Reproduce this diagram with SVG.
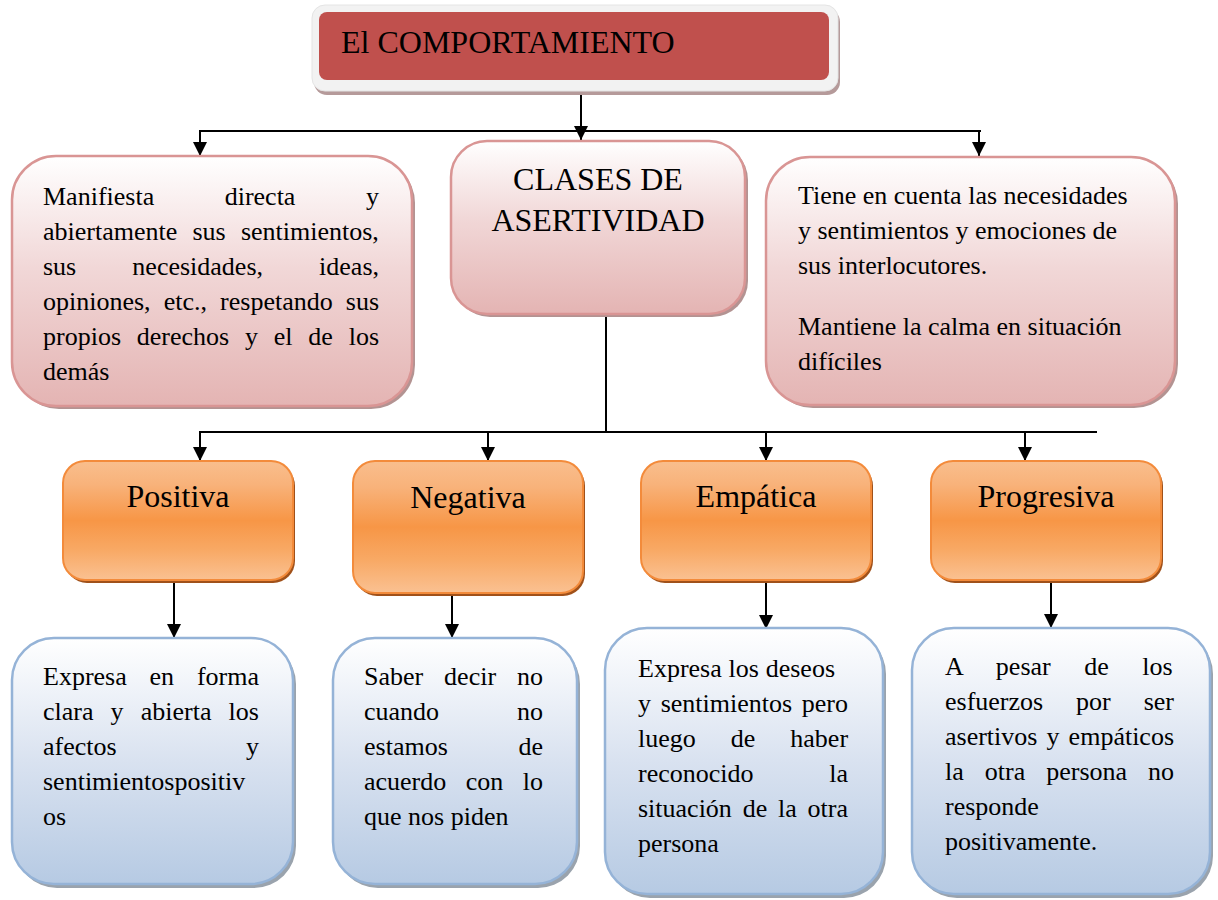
<svg xmlns="http://www.w3.org/2000/svg" width="1218" height="900" viewBox="0 0 1218 900">
<defs>
<linearGradient id="gPink" x1="0" y1="0" x2="0" y2="1">
<stop offset="0" stop-color="#ffffff"/><stop offset="0.45" stop-color="#f1d7d7"/><stop offset="1" stop-color="#e4b4b3"/>
</linearGradient>
<linearGradient id="gOrange" x1="0" y1="0" x2="0" y2="1">
<stop offset="0" stop-color="#f9be8d"/><stop offset="0.2" stop-color="#f8b27a"/><stop offset="0.5" stop-color="#f79646"/><stop offset="0.75" stop-color="#f8a965"/><stop offset="1" stop-color="#fac192"/>
</linearGradient>
<linearGradient id="gBlue" x1="0" y1="0" x2="0" y2="1">
<stop offset="0" stop-color="#ffffff"/><stop offset="0.5" stop-color="#d9e2f0"/><stop offset="1" stop-color="#b6cae3"/>
</linearGradient>
<marker id="arr" markerUnits="userSpaceOnUse" markerWidth="14" markerHeight="14" viewBox="0 0 14 14" refX="14" refY="7" orient="auto">
<path d="M0,0 L14,7 L0,14 z" fill="#000"/>
</marker>
</defs>
<style>
text{font-family:"Liberation Serif","Times New Roman",serif;fill:#000}
.big{font-size:32px}
.body{font-size:26px}
.pink{fill:url(#gPink);stroke:#d99594;stroke-width:2.5}
.pinkSh{fill:#b39392}
.orange{fill:url(#gOrange);stroke:#f38b3b;stroke-width:2}
.orangeSh{fill:#a0511a}
.blue{fill:url(#gBlue);stroke:#95b3d7;stroke-width:2.5}
.blueSh{fill:#9aa3ad}
.ln{stroke:#000;stroke-width:2;fill:none}
.ar{stroke:#000;stroke-width:2;fill:none;marker-end:url(#arr)}
</style>
<rect width="1218" height="900" fill="#fff"/>

<g id="connectors">
<line class="ar" x1="581" y1="82" x2="581" y2="140"/>
<line class="ln" x1="199" y1="131" x2="981" y2="131"/>
<line class="ar" x1="200" y1="131" x2="200" y2="156"/>
<line class="ar" x1="979" y1="131" x2="979" y2="156"/>
<line class="ln" x1="606" y1="312" x2="606" y2="432"/>
<line class="ln" x1="199" y1="432" x2="1097" y2="432"/>
<line class="ar" x1="200" y1="432" x2="200" y2="461"/>
<line class="ar" x1="488" y1="432" x2="488" y2="461"/>
<line class="ar" x1="766" y1="432" x2="766" y2="461"/>
<line class="ar" x1="1025" y1="432" x2="1025" y2="461"/>
<line class="ar" x1="174" y1="581" x2="174" y2="638"/>
<line class="ar" x1="452" y1="593" x2="452" y2="638"/>
<line class="ar" x1="766" y1="582" x2="766" y2="629"/>
<line class="ar" x1="1051" y1="582" x2="1051" y2="628"/>
</g>

<g id="title">
<rect x="314" y="9" width="526" height="86" rx="13" fill="#b59a9a"/>
<rect x="312" y="5" width="526" height="86" rx="13" fill="#f2f2f2" stroke="#e4e4e4" stroke-width="1"/>
<rect x="319" y="12" width="510" height="68" rx="8" fill="#c0504d"/>
<text class="big" x="341" y="53">El COMPORTAMIENTO</text>
</g>

<g id="node-left">
<rect class="pinkSh" x="15" y="159" width="400" height="250" rx="44"/>
<rect class="pink" x="12" y="156" width="400" height="250" rx="44"/>
<text class="body">
<tspan x="43" y="205" word-spacing="64">Manifiesta directa y</tspan>
<tspan x="43" y="240" word-spacing="8.7">abiertamente sus sentimientos,</tspan>
<tspan x="43" y="275" word-spacing="49.6">sus necesidades, ideas,</tspan>
<tspan x="43" y="310" word-spacing="6.6">opiniones, etc., respetando sus</tspan>
<tspan x="43" y="345" word-spacing="9.3">propios derechos y el de los</tspan>
<tspan x="43" y="380">demás</tspan>
</text>
</g>

<g id="node-center">
<rect class="pinkSh" x="454" y="144" width="294" height="173" rx="36"/>
<rect class="pink" x="451" y="141" width="294" height="173" rx="36"/>
<text class="big" text-anchor="middle"><tspan x="598" y="190">CLASES DE</tspan><tspan x="598" y="231">ASERTIVIDAD</tspan></text>
</g>

<g id="node-right">
<rect class="pinkSh" x="769" y="160" width="409" height="248" rx="44"/>
<rect class="pink" x="766" y="157" width="409" height="248" rx="44"/>
<text class="body">
<tspan x="798" y="204">Tiene en cuenta las necesidades</tspan>
<tspan x="798" y="239">y sentimientos y emociones de</tspan>
<tspan x="798" y="274">sus interlocutores.</tspan>
<tspan x="798" y="335">Mantiene la calma en situación</tspan>
<tspan x="798" y="370">difíciles</tspan>
</text>
</g>

<g id="node-positiva">
<rect class="orangeSh" x="65" y="464" width="230" height="119" rx="22"/>
<rect class="orange" x="63" y="461" width="230" height="119" rx="22"/>
<text class="big" x="178" y="507" text-anchor="middle">Positiva</text>
</g>
<g id="node-negativa">
<rect class="orangeSh" x="355" y="464" width="230" height="132" rx="22"/>
<rect class="orange" x="353" y="461" width="230" height="132" rx="22"/>
<text class="big" x="468" y="508" text-anchor="middle">Negativa</text>
</g>
<g id="node-empatica">
<rect class="orangeSh" x="643" y="464" width="230" height="119" rx="22"/>
<rect class="orange" x="641" y="461" width="230" height="119" rx="22"/>
<text class="big" x="756" y="507" text-anchor="middle">Empática</text>
</g>
<g id="node-progresiva">
<rect class="orangeSh" x="933" y="464" width="230" height="119" rx="22"/>
<rect class="orange" x="931" y="461" width="230" height="119" rx="22"/>
<text class="big" x="1046" y="507" text-anchor="middle">Progresiva</text>
</g>

<g id="node-desc-positiva">
<rect class="blueSh" x="15" y="642" width="281" height="246" rx="42"/>
<rect class="blue" x="12" y="638" width="281" height="246" rx="42"/>
<text class="body">
<tspan x="43" y="685" word-spacing="16.3">Expresa en forma</tspan>
<tspan x="43" y="720" word-spacing="10.6">clara y abierta los</tspan>
<tspan x="43" y="755" word-spacing="122.9">afectos y</tspan>
<tspan x="43" y="790">sentimientospositiv</tspan>
<tspan x="43" y="825">os</tspan>
</text>
</g>

<g id="node-desc-negativa">
<rect class="blueSh" x="336" y="642" width="244" height="246" rx="42"/>
<rect class="blue" x="333" y="638" width="244" height="246" rx="42"/>
<text class="body">
<tspan x="364" y="685" word-spacing="14.4">Saber decir no</tspan>
<tspan x="364" y="720" word-spacing="71.4">cuando no</tspan>
<tspan x="364" y="755" word-spacing="64.2">estamos de</tspan>
<tspan x="364" y="790" word-spacing="13">acuerdo con lo</tspan>
<tspan x="364" y="825">que nos piden</tspan>
</text>
</g>

<g id="node-desc-empatica">
<rect class="blueSh" x="608" y="632" width="278" height="266" rx="42"/>
<rect class="blue" x="605" y="628" width="278" height="266" rx="42"/>
<text class="body">
<tspan x="638" y="677" word-spacing="0.3">Expresa los deseos</tspan>
<tspan x="638" y="712" word-spacing="3.2">y sentimientos pero</tspan>
<tspan x="638" y="747" word-spacing="28.5">luego de haber</tspan>
<tspan x="638" y="782" word-spacing="69.2">reconocido la</tspan>
<tspan x="638" y="817" word-spacing="4.3">situación de la otra</tspan>
<tspan x="638" y="852">persona</tspan>
</text>
</g>

<g id="node-desc-progresiva">
<rect class="blueSh" x="915" y="632" width="298" height="266" rx="42"/>
<rect class="blue" x="912" y="628" width="298" height="266" rx="42"/>
<text class="body">
<tspan x="945" y="675" word-spacing="27">A pesar de los</tspan>
<tspan x="945" y="710" word-spacing="26.4">esfuerzos por ser</tspan>
<tspan x="945" y="745" word-spacing="2.6">asertivos y empáticos</tspan>
<tspan x="945" y="780" word-spacing="14.5">la otra persona no</tspan>
<tspan x="945" y="815">responde</tspan>
<tspan x="945" y="850">positivamente.</tspan>
</text>
</g>
</svg>
